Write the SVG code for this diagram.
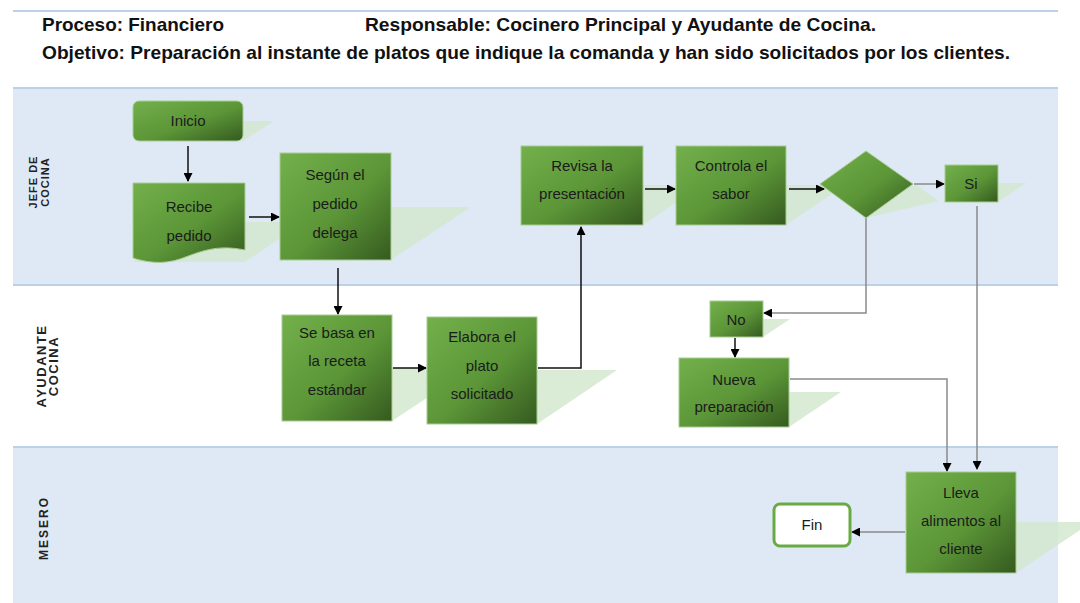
<svg xmlns="http://www.w3.org/2000/svg" width="1080" height="603" viewBox="0 0 1080 603">
  <style>
    .hdr { font-family: "Liberation Sans", Arial, sans-serif; font-size: 19px; font-weight: bold; fill: #111; }
    .lane { font-family: "Liberation Sans", Arial, sans-serif; font-size: 11px; font-weight: bold; fill: #222; letter-spacing: 1px; }
    .lbl { font-family: "Liberation Sans", Arial, sans-serif; font-size: 15px; fill: #1b1b1b; text-anchor: middle; }
    .box { fill: url(#g); stroke: #a8cc92; stroke-width: 1; }
    .shd { fill: #d3e8cf; opacity: 0.85; }
    .band { fill: #dfe9f5; }
    .sep { stroke: #bcd0ea; stroke-width: 2; }
    .c { fill: none; stroke: #111; stroke-width: 1.5; }
    .cg { fill: none; stroke: #8a8a8a; stroke-width: 1.5; }
  </style>
  <defs>
    <linearGradient id="g" x1="0" y1="0" x2="1" y2="1">
      <stop offset="0" stop-color="#73b04b"/>
      <stop offset="0.55" stop-color="#5b9537"/>
      <stop offset="1" stop-color="#355a1f"/>
    </linearGradient>
    <marker id="ah" markerWidth="9" markerHeight="9" refX="8" refY="4.5" orient="auto" markerUnits="userSpaceOnUse">
      <path d="M0,0 L9,4.5 L0,9 Z" fill="#000"/>
    </marker>
  </defs>

  <!-- header -->
  <line x1="13" y1="11" x2="1058" y2="11" class="sep"/>
  <text class="hdr" x="42" y="31" textLength="182" lengthAdjust="spacingAndGlyphs">Proceso: Financiero</text>
  <text class="hdr" x="365" y="31" textLength="511" lengthAdjust="spacingAndGlyphs">Responsable: Cocinero Principal y Ayudante de Cocina.</text>
  <text class="hdr" x="42" y="59" textLength="968" lengthAdjust="spacingAndGlyphs">Objetivo: Preparación al instante de platos que indique la comanda y han sido solicitados por los clientes.</text>

  <!-- swimlanes -->
  <g id="lanes">
    <rect class="band" x="13" y="88" width="1045" height="197"/>
    <rect class="band" x="13" y="447" width="1045" height="156"/>
    <line class="sep" x1="13" y1="88" x2="1058" y2="88"/>
    <line class="sep" x1="13" y1="285" x2="1058" y2="285"/>
    <line class="sep" x1="13" y1="447" x2="1058" y2="447"/>
    <text class="lane" transform="translate(37,182) rotate(-90)" text-anchor="middle">JEFE DE</text>
    <text class="lane" transform="translate(49,182) rotate(-90)" text-anchor="middle">COCINA</text>
    <text class="lane" style="font-size:13px;letter-spacing:1.5px" transform="translate(46,366) rotate(-90)" text-anchor="middle">AYUDANTE</text>
    <text class="lane" style="font-size:13px;letter-spacing:1.5px" transform="translate(58,366) rotate(-90)" text-anchor="middle">COCINA</text>
    <text class="lane" style="font-size:12px;letter-spacing:2px" transform="translate(48,528) rotate(-90)" text-anchor="middle">MESERO</text>
  </g>

  <!-- perspective shadows -->
  <g id="shadows">
    <polygon class="shd" points="133,141 243,141 274,121 164,121"/>
    <polygon class="shd" points="133,262 245,262 304,222 192,222"/>
    <polygon class="shd" points="280,260 391,260 471,207 360,207"/>
    <polygon class="shd" points="282,421 392,421 472,368 362,368"/>
    <polygon class="shd" points="427,424 537,424 617,370 507,370"/>
    <polygon class="shd" points="521,225 643,225 702,185 580,185"/>
    <polygon class="shd" points="676,225 786,225 845,185 735,185"/>
    <polygon class="shd" points="916,184.5 938.5,201 866,218 845.5,201"/>
    <polygon class="shd" points="945,202 998,202 1026,183 973,183"/>
    <polygon class="shd" points="710,337 763,337 790,319 737,319"/>
    <polygon class="shd" points="679,427 789,427 841,392 731,392"/>
    <polygon class="shd" points="906,573 1016,573 1092,522 982,522"/>
  </g>

  <!-- connectors -->
  <g id="connectors">
    <path class="c" d="M188,146 V181" marker-end="url(#ah)"/>
    <path class="c" d="M249,217 H279" marker-end="url(#ah)"/>
    <path class="c" d="M338,268 V314" marker-end="url(#ah)"/>
    <path class="c" d="M393,368 H426" stroke="#444" marker-end="url(#ah)"/>
    <path class="c" d="M538,368 H581 V227" stroke-width="2.5" marker-end="url(#ah)"/>
    <path class="c" d="M645,189 H675" marker-end="url(#ah)"/>
    <path class="c" d="M789,189 H824" marker-end="url(#ah)"/>
    <path class="cg" d="M914,184 H944" marker-end="url(#ah)"/>
    <path class="cg" d="M977,206 V469" marker-end="url(#ah)"/>
    <path class="cg" d="M866,218 V313 H764" marker-end="url(#ah)"/>
    <path class="c" d="M735,338 V357" stroke-width="1" marker-end="url(#ah)"/>
    <path class="cg" d="M790,379 H947 V471" marker-end="url(#ah)"/>
    <path class="cg" d="M905,532 H852" stroke-width="2" marker-end="url(#ah)"/>
  </g>

  <!-- process nodes -->
  <g id="inicio">
    <rect class="box" x="133" y="101" width="110" height="40" rx="6"/>
    <text class="lbl" x="188" y="126">Inicio</text>
  </g>
  <g id="recibe">
    <path class="box" d="M133,183 H245 V250 C215,244 200,252 180,259 C162,265 145,262 133,258 Z"/>
    <text class="lbl" x="189" y="212">Recibe</text>
    <text class="lbl" x="189" y="241">pedido</text>
  </g>
  <g id="segun">
    <rect class="box" x="280" y="153" width="111" height="107"/>
    <text class="lbl" x="335" y="180">Según el</text>
    <text class="lbl" x="335" y="209">pedido</text>
    <text class="lbl" x="335" y="238">delega</text>
  </g>
  <g id="sebasa">
    <rect class="box" x="282" y="315" width="110" height="106"/>
    <text class="lbl" x="337" y="338">Se basa en</text>
    <text class="lbl" x="337" y="366">la receta</text>
    <text class="lbl" x="337" y="395">estándar</text>
  </g>
  <g id="elabora">
    <rect class="box" x="427" y="317" width="110" height="107"/>
    <text class="lbl" x="482" y="342">Elabora el</text>
    <text class="lbl" x="482" y="371">plato</text>
    <text class="lbl" x="482" y="399">solicitado</text>
  </g>
  <g id="revisa">
    <rect class="box" x="521" y="146" width="122" height="79"/>
    <text class="lbl" x="582" y="171">Revisa la</text>
    <text class="lbl" x="582" y="199">presentación</text>
  </g>
  <g id="controla">
    <rect class="box" x="676" y="146" width="110" height="79"/>
    <text class="lbl" x="731" y="171">Controla el</text>
    <text class="lbl" x="731" y="199">sabor</text>
  </g>
  <g id="decision">
    <polygon class="box" points="866,151 913,184 866,218 820,184"/>
  </g>
  <g id="si">
    <rect class="box" x="945" y="165" width="53" height="37"/>
    <text class="lbl" x="971" y="189">Si</text>
  </g>
  <g id="no">
    <rect class="box" x="710" y="301" width="53" height="36"/>
    <text class="lbl" x="736" y="325">No</text>
  </g>
  <g id="nueva">
    <rect class="box" x="679" y="358" width="110" height="69"/>
    <text class="lbl" x="734" y="385">Nueva</text>
    <text class="lbl" x="734" y="412">preparación</text>
  </g>
  <g id="lleva">
    <rect class="box" x="906" y="472" width="110" height="101"/>
    <text class="lbl" x="961" y="498">Lleva</text>
    <text class="lbl" x="961" y="526">alimentos al</text>
    <text class="lbl" x="961" y="554">cliente</text>
  </g>
  <g id="fin">
    <rect x="774" y="504" width="76" height="42" rx="6" fill="#fff" stroke="#6aaa45" stroke-width="3"/>
    <text class="lbl" x="812" y="530">Fin</text>
  </g>
</svg>
